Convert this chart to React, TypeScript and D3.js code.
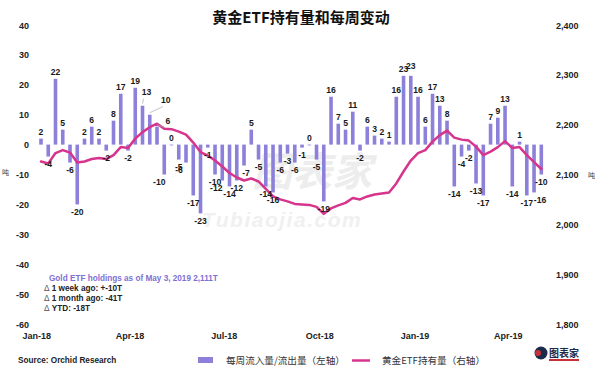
import * as d3 from 'd3';

// ── data ──
const firstWeek = new Date(2018, 0, 5);
const lastWeek = new Date(2019, 4, 4);

// weekly inflow / outflow, tonnes (left axis)
const weeklyFlow = [
  2, -4, 22, 5, -6, -20, 2, 6, 2, -2,
  8, 17, -2, 19, 13, 10, 6, -10, 0, -5,
  -6, -17, -23, -1, -10, -12, -14, -12, -7, 5,
  -5, -14, -16, -6, -3, -6, -1, 0, -5, -19,
  16, 7, 5, 11, -2, 6, 3, 2, 1, 16,
  23, 23, 16, 6, 17, 13, 8, -14, -4, -2,
  -13, -17, 7, 9, 13, -14, 1, -17, -16, -10,
];

// total holdings, tonnes (right axis)
const holdings = [
  2126, 2122, 2143, 2149, 2144, 2124, 2126, 2131, 2133, 2131,
  2139, 2155, 2153, 2172, 2185, 2195, 2202, 2192, 2191, 2186,
  2180, 2164, 2145, 2138, 2128, 2116, 2103, 2094, 2088, 2092,
  2086, 2071, 2056, 2050, 2046, 2041, 2040, 2039, 2035, 2021,
  2032, 2038, 2043, 2053, 2050, 2056, 2060, 2062, 2064, 2082,
  2106, 2128, 2143, 2149, 2166, 2179, 2188, 2174, 2170, 2168,
  2156, 2139, 2146, 2155, 2167, 2153, 2155, 2139, 2125, 2111,
];

const leftTicks = [40, 30, 20, 10, 0, -10, -20, -30, -40, -50, -60];
const rightTicks = [2400, 2300, 2200, 2100, 2000, 1900, 1800];
const monthTicks = [
  new Date(2018, 0, 1), new Date(2018, 3, 1), new Date(2018, 6, 1),
  new Date(2018, 9, 1), new Date(2019, 0, 1), new Date(2019, 3, 1),
];
const noteTitle = 'Gold ETF holdings as of May 3, 2019 2,111T';
const noteLines = ['1 week ago: +-10T', '1 month ago: -41T', 'YTD: -18T'];

// label nudges where excel moved labels apart (index -> dx, dy)
const labelNudge: Record<number, [number, number]> = {
  14: [4, -7], 15: [16, -8], 16: [11, 1], 17: [-5, 0],
  20: [-7, 0], 25: [-6, 0], 28: [2, 0], 51: [0, -3], 68: [6, 0],
};
const leaderFor = [14, 15, 16];

const BAR = '#8c80da';
const LINE = '#d6348d';
const LAT = '"Liberation Sans", Arial, sans-serif';
const CJK = '"Noto Sans CJK SC", sans-serif';

export default function App() {
  const W = 600, H = 372;
  const weeks = d3.timeFriday.range(firstWeek, lastWeek);

  const x = d3.scaleTime().domain([firstWeek, new Date(2019, 4, 3)]).range([41, 541.3]);
  const yL = d3.scaleLinear().domain([-60, 40]).range([324, 25]);
  const yR = d3.scaleLinear().domain([1800, 2400]).range([324, 25]);

  const line = d3.line<number>()
    .x((_, i) => x(weeks[i]))
    .y(d => yR(d));

  const bw = 3.6;

  return (
    <svg width={W} height={H} style={{ position: 'absolute', left: 0, top: 0, background: '#fff' }}>
      {/* watermark */}
      <g opacity={0.45}>
        <text x={312} y={186} textAnchor="middle" fontFamily={CJK} fontWeight={700}
          fontStyle="italic" fontSize={40} fill="#d8d8d8">图表家</text>
        <text x={282} y={227} textAnchor="middle" fontFamily={LAT} fontWeight={700}
          fontStyle="italic" fontSize={21} fill="#dedede" letterSpacing={1.5}>Tubiaojia.com</text>
      </g>

      {/* title */}
      <text x={301} y={23} textAnchor="middle" fontFamily={CJK} fontWeight={700} fontSize={15} fill="#111">
        黄金ETF持有量和每周变动
      </text>

      {/* left axis */}
      {leftTicks.map(t => (
        <text key={t} x={29} y={yL(t) + 3.5} textAnchor="end" fontFamily={LAT}
          fontWeight={700} fontSize={9} fill="#222">{t}</text>
      ))}
      <text x={2} y={175} fontFamily={CJK} fontSize={7} fill="#444">吨</text>

      {/* right axis */}
      {rightTicks.map(t => (
        <text key={t} x={556} y={yR(t) + 3.5} fontFamily={LAT}
          fontWeight={700} fontSize={9} fill="#222">{d3.format(',')(t)}</text>
      ))}
      <text x={588} y={178} fontFamily={CJK} fontSize={7} fill="#444">吨</text>

      {/* x axis labels */}
      {monthTicks.map(d => (
        <text key={+d} x={x(d)} y={338.5} textAnchor="middle" fontFamily={LAT}
          fontWeight={700} fontSize={9} fill="#222">{d3.timeFormat('%b-%y')(d)}</text>
      ))}

      {/* bars */}
      {weeklyFlow.map((v, i) => (
        <rect key={i} x={x(weeks[i]) - bw / 2} width={bw}
          y={Math.min(yL(v), yL(0))} height={Math.max(Math.abs(yL(v) - yL(0)), v === 0 ? 0.8 : 0)}
          fill={BAR} />
      ))}

      {/* holdings line */}
      <path d={line(holdings) ?? ''} fill="none" stroke={LINE} strokeWidth={2.5}
        strokeLinejoin="round" strokeLinecap="round" />

      {/* leader lines */}
      {leaderFor.map(i => {
        const [dx, dy] = labelNudge[i];
        const bx = x(weeks[i]);
        const by = yL(weeklyFlow[i]) - 2;
        return <line key={i} x1={bx} y1={by} x2={bx + dx - 3} y2={by + dy + 2}
          stroke="#aaa" strokeWidth={0.7} />;
      })}

      {/* bar labels */}
      {weeklyFlow.map((v, i) => {
        const [dx, dy] = labelNudge[i] ?? [0, 0];
        const bx = x(weeks[i]);
        const ly = v >= 0 ? yL(v) - 4 : yL(v) + 10.5;
        return (
          <text key={i} x={bx + dx} y={ly + dy} textAnchor="middle" fontFamily={LAT}
            fontWeight={700} fontSize={8.6} fill="#1a1a1a">{v}</text>
        );
      })}

      {/* note */}
      <text x={49} y={280.5} fontFamily={LAT} fontWeight={700} fontSize={8.2} fill="#7d71d4">{noteTitle}</text>
      {noteLines.map((s, i) => (
        <text key={s} x={44} y={290.5 + i * 10} fontFamily={LAT} fontWeight={700} fontSize={8.2} fill="#222">
          <tspan fontWeight={400} fill="#555">Δ</tspan> {s}
        </text>
      ))}

      {/* source */}
      <text x={18} y={363} fontFamily={LAT} fontWeight={700} fontSize={8.2} fill="#222">Source: Orchid Research</text>

      {/* legend */}
      <rect x={198} y={357} width={15} height={6} fill={BAR} />
      <text x={226} y={364} fontFamily={CJK} fontSize={9.6} fill="#333">每周流入量/流出量（左轴）</text>
      <line x1={352} x2={370} y1={360.5} y2={360.5} stroke={LINE} strokeWidth={2.5} />
      <text x={382} y={364} fontFamily={CJK} fontSize={9.6} fill="#333">黄金ETF持有量（右轴）</text>

      {/* logo */}
      <g>
        <circle cx={541} cy={353} r={6.5} fill="#1d2b4a" />
        <circle cx={538} cy={353} r={3} fill="#c8313a" />
        <text x={549} y={357} fontFamily={CJK} fontWeight={700} fontSize={10} fill="#1d2b4a">图表家</text>
        <rect x={549} y={359} width={30} height={2} fill="#c8313a" />
      </g>
    </svg>
  );
}
